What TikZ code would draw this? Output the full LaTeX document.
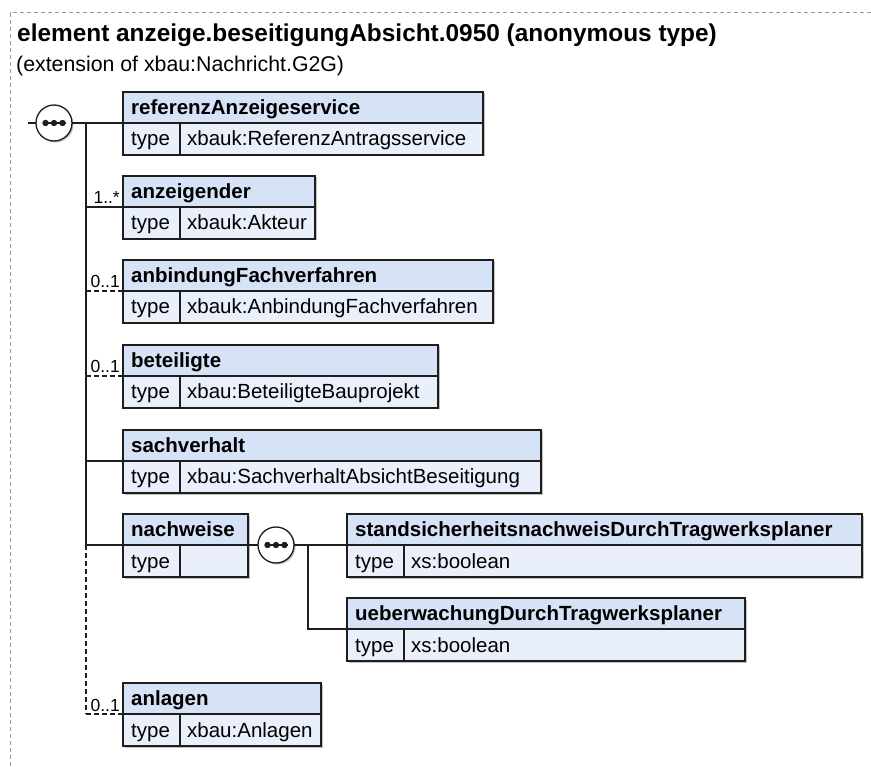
\documentclass[tikz,border=0pt]{standalone}
\usepackage{fontspec}
\setmainfont{Liberation Sans}
\usetikzlibrary{shapes.geometric,shadows}
\definecolor{hdrc}{RGB}{214,226,246}
\definecolor{rowc}{RGB}{233,240,252}
\definecolor{lc}{RGB}{30,30,30}
\definecolor{bordc}{RGB}{150,150,150}
\newcommand\elbox[6]{%
  \node[hbox, minimum width=#4, anchor=north west] (#1) at (#2,#3) {};
  \node[btxt] (#1-n) at ([xshift=8,yshift=-7]#1.west) {#5};
  \node[tbox, minimum width=57, anchor=north west] (#1-t) at (#1.south west) {};
  \node[rtxt] (#1-tl) at ([xshift=8,yshift=-7]#1-t.west) {type};
  \node[tbox, minimum width=#4-57, anchor=north west] (#1-v) at (#1-t.north east) {};
  \node[rtxt] (#1-tv) at ([xshift=7,yshift=-7]#1-v.west) {#6};
}
\tikzset{
  shad/.style={drop shadow={shadow xshift=1.5pt, shadow yshift=-1.5pt, fill=black, opacity=0.25}},
  hbox/.style={rectangle, draw=lc, line width=1.2, fill=hdrc, minimum height=31, inner sep=0, outer sep=0, shad},
  tbox/.style={rectangle, draw=lc, line width=1.2, fill=rowc, minimum height=32, inner sep=0, outer sep=0, shad},
  btxt/.style={anchor=base west, inner sep=0, font=\fontsize{20.5}{24}\selectfont\bfseries},
  rtxt/.style={anchor=base west, inner sep=0, font=\fontsize{20.5}{24}\selectfont},
  mult/.style={anchor=base east, inner sep=0, font=\fontsize{17.5}{20}\selectfont},
  conn/.style={draw=lc, line width=1.3},
  opt/.style={draw=lc, line width=1.3, dash pattern=on 5pt off 3pt},
  seq/.style={circle, draw=lc, line width=1.3, fill=white, minimum size=36, inner sep=0, outer sep=0, shad,
    path picture={
      \draw[lc, line width=1.3] ([xshift=-11.5]path picture bounding box.center) -- ([xshift=11.5]path picture bounding box.center);
      \foreach \d in {-8.5,0,8.5} \fill[lc] ([xshift=\d]path picture bounding box.center) circle (3.2);
    }},
}
\begin{document}
\begin{tikzpicture}[x=1pt,y=-1pt]
\useasboundingbox (0,0) rectangle (871,767);
\draw[bordc, line width=1, dash pattern=on 4pt off 3pt] (871,13) -- (10,13) -- (10,767);
\node[anchor=base west, inner sep=0, font=\fontsize{24.4}{29}\selectfont\bfseries] (title) at (17,41.5) {element anzeige.beseitigungAbsicht.0950 (anonymous type)};
\node[anchor=base west, inner sep=0, font=\fontsize{21.3}{25}\selectfont] (sub) at (16,72) {(extension of xbau:Nachricht.G2G)};

\elbox{ref}{123}{92}{360}{referenzAnzeigeservice}{xbauk:ReferenzAntragsservice}
\elbox{anz}{123}{176}{192}{anzeigender}{xbauk:Akteur}
\elbox{anb}{123}{260}{370}{anbindungFachverfahren}{xbauk:AnbindungFachverfahren}
\elbox{bet}{123}{345}{315}{beteiligte}{xbau:BeteiligteBauprojekt}
\elbox{sach}{123}{430}{418}{sachverhalt}{xbau:SachverhaltAbsichtBeseitigung}
\elbox{nach}{123}{514}{125}{nachweise}{}
\elbox{anl}{123}{683}{198}{anlagen}{xbau:Anlagen}
\elbox{std}{347}{514}{515}{standsicherheitsnachweisDurchTragwerksplaner}{xs:boolean}
\elbox{ueb}{347}{598}{398}{ueberwachungDurchTragwerksplaner}{xs:boolean}

\coordinate (in) at (28,123);
\node[seq] (s1) at (54,123) {};
\coordinate (j1) at (86,123);
\draw[conn] (in) -- (s1.west);
\draw[conn] (s1.east) -- (ref.south west);
\draw[conn] (j1) -- (j1 |- nach.south west);
\draw[opt] (j1 |- nach.south west) -- (j1 |- anl.south west);
\draw[conn] (j1 |- anz.south west) -- (anz.south west);
\draw[opt] (j1 |- anb.south west) -- (anb.south west);
\draw[opt] (j1 |- bet.south west) -- (bet.south west);
\draw[conn] (j1 |- sach.south west) -- (sach.south west);
\draw[conn] (j1 |- nach.south west) -- (nach.south west);
\draw[opt] (j1 |- anl.south west) -- (anl.south west);

\node[mult] (m-anz) at ([xshift=-3,yshift=3]anz.south west) {1..*};
\node[mult] (m-anb) at ([xshift=-3,yshift=3]anb.south west) {0..1};
\node[mult] (m-bet) at ([xshift=-3,yshift=3]bet.south west) {0..1};
\node[mult] (m-anl) at ([xshift=-3,yshift=3]anl.south west) {0..1};

\node[seq] (s2) at ([xshift=28]nach.south east) {};
\coordinate (j2) at (308,545);
\draw[conn] (nach.south east) -- (s2.west);
\draw[conn] (s2.east) -- (std.south west);
\draw[conn] (j2) |- (ueb.south west);
\end{tikzpicture}
\end{document}
